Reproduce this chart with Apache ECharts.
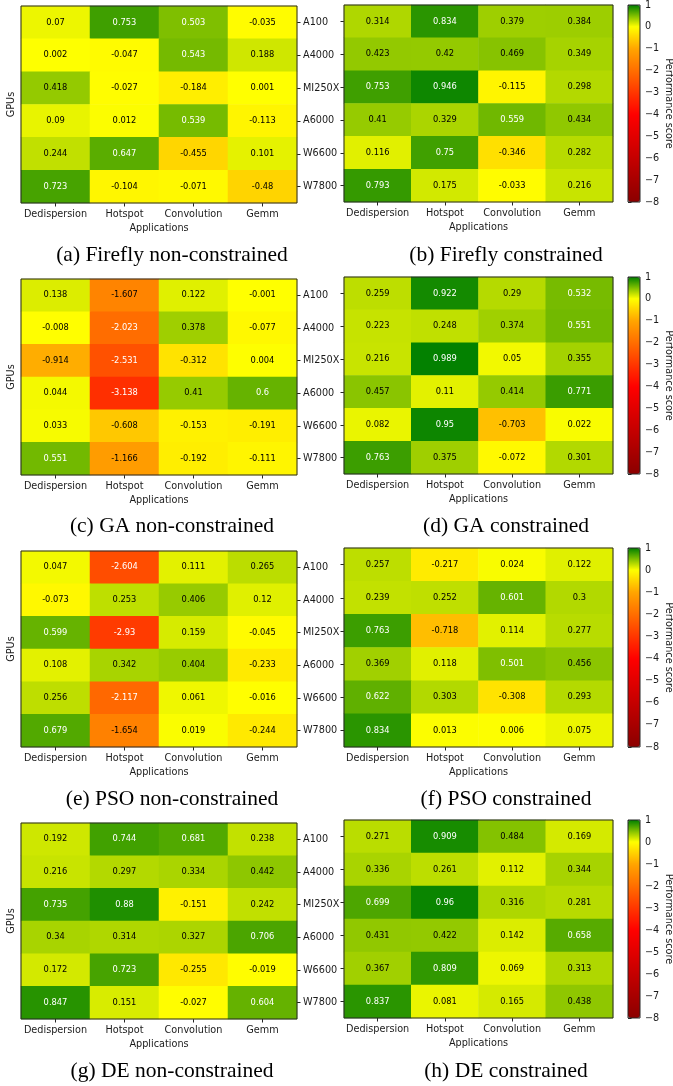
<!DOCTYPE html>
<html><head><meta charset="utf-8">
<script src="https://cdn.jsdelivr.net/npm/echarts@6/dist/echarts.min.js"></script>
<style>
html,body{margin:0;padding:0;background:#fff;}
#wrap{position:relative;width:673px;height:1086px;overflow:hidden;background:#fff;}
.p{position:absolute;}
</style></head><body><div id="wrap"></div>
<script>
// ---------- data ----------
const apps = ['Dedispersion', 'Hotspot', 'Convolution', 'Gemm'];
const gpus = ['A100', 'A4000', 'MI250X', 'A6000', 'W6600', 'W7800'];
const colorbarMin = -8;
const colorbarMax = 1;

const fireflyNon = [
  [0.07, 0.753, 0.503, -0.035],
  [0.002, -0.047, 0.543, 0.188],
  [0.418, -0.027, -0.184, 0.001],
  [0.09, 0.012, 0.539, -0.113],
  [0.244, 0.647, -0.455, 0.101],
  [0.723, -0.104, -0.071, -0.48]
];
const fireflyCon = [
  [0.314, 0.834, 0.379, 0.384],
  [0.423, 0.42, 0.469, 0.349],
  [0.753, 0.946, -0.115, 0.298],
  [0.41, 0.329, 0.559, 0.434],
  [0.116, 0.75, -0.346, 0.282],
  [0.793, 0.175, -0.033, 0.216]
];
const gaNon = [
  [0.138, -1.607, 0.122, -0.001],
  [-0.008, -2.023, 0.378, -0.077],
  [-0.914, -2.531, -0.312, 0.004],
  [0.044, -3.138, 0.41, 0.6],
  [0.033, -0.608, -0.153, -0.191],
  [0.551, -1.166, -0.192, -0.111]
];
const gaCon = [
  [0.259, 0.922, 0.29, 0.532],
  [0.223, 0.248, 0.374, 0.551],
  [0.216, 0.989, 0.05, 0.355],
  [0.457, 0.11, 0.414, 0.771],
  [0.082, 0.95, -0.703, 0.022],
  [0.763, 0.375, -0.072, 0.301]
];
const psoNon = [
  [0.047, -2.604, 0.111, 0.265],
  [-0.073, 0.253, 0.406, 0.12],
  [0.599, -2.93, 0.159, -0.045],
  [0.108, 0.342, 0.404, -0.233],
  [0.256, -2.117, 0.061, -0.016],
  [0.679, -1.654, 0.019, -0.244]
];
const psoCon = [
  [0.257, -0.217, 0.024, 0.122],
  [0.239, 0.252, 0.601, 0.3],
  [0.763, -0.718, 0.114, 0.277],
  [0.369, 0.118, 0.501, 0.456],
  [0.622, 0.303, -0.308, 0.293],
  [0.834, 0.013, 0.006, 0.075]
];
const deNon = [
  [0.192, 0.744, 0.681, 0.238],
  [0.216, 0.297, 0.334, 0.442],
  [0.735, 0.88, -0.151, 0.242],
  [0.34, 0.314, 0.327, 0.706],
  [0.172, 0.723, -0.255, -0.019],
  [0.847, 0.151, -0.027, 0.604]
];
const deCon = [
  [0.271, 0.909, 0.484, 0.169],
  [0.336, 0.261, 0.112, 0.344],
  [0.699, 0.96, 0.316, 0.281],
  [0.431, 0.422, 0.142, 0.658],
  [0.367, 0.809, 0.069, 0.313],
  [0.837, 0.081, 0.165, 0.438]
];
const captions = [
  '(a) Firefly non-constrained', '(b) Firefly constrained',
  '(c) GA non-constrained', '(d) GA constrained',
  '(e) PSO non-constrained', '(f) PSO constrained',
  '(g) DE non-constrained', '(h) DE constrained'
];
const panelData = [fireflyNon, fireflyCon, gaNon, gaCon, psoNon, psoCon, deNon, deCon];

// ---------- styling / layout ----------
// colours at -8,-7,...,0,1 (darkred -> red -> orange -> yellow -> green)
const cmap = ['#8b0000', '#a80000', '#c50000', '#e20000', '#ff0000',
              '#ff3700', '#ff6e00', '#ffa500', '#ffff00', '#008000'];
const FONT = 'DejaVu Sans';
const INK = '#1a1a1a';
const divs = [
  {x: 0, y: 0, w: 346, h: 270}, {x: 331, y: 0, w: 342, h: 270},
  {x: 0, y: 270, w: 346, h: 270}, {x: 331, y: 270, w: 342, h: 270},
  {x: 0, y: 540, w: 346, h: 270}, {x: 331, y: 540, w: 342, h: 270},
  {x: 0, y: 810, w: 346, h: 276}, {x: 331, y: 810, w: 342, h: 276}
];
const layout = [
  {left: 21, top: 6, w: 276, h: 197, capX: 172, capY: 255},
  {left: 13, top: 5, w: 269, h: 197, capX: 175, capY: 255},
  {left: 21, top: 9, w: 276, h: 196, capX: 172, capY: 256},
  {left: 13, top: 7, w: 269, h: 197, capX: 175, capY: 256},
  {left: 21, top: 11, w: 276, h: 196, capX: 172, capY: 259},
  {left: 13, top: 8, w: 269, h: 199, capX: 175, capY: 259},
  {left: 21, top: 13, w: 276, h: 196, capX: 172, capY: 261},
  {left: 13, top: 10, w: 269, h: 198, capX: 175, capY: 261}
];

function buildOption(idx) {
  const data = panelData[idx];
  const L = layout[idx];
  const isRight = idx % 2 === 1;
  const cells = [];
  data.forEach((row, yi) => row.forEach((v, xi) => {
    cells.push({value: [xi, yi, v], label: {color: (v >= 0.5 || v <= -2) ? '#ffffff' : '#000000'}});
  }));
  const txt = {fontFamily: FONT, fontSize: 9.7, color: INK};
  const grids = [{left: L.left, top: L.top, width: L.w, height: L.h, show: true,
                  outerBoundsMode: 'none', containLabel: false,
                  borderColor: '#262626', borderWidth: 1, z: 5, backgroundColor: 'transparent'}];
  const xAxes = [{
    gridIndex: 0, type: 'category', data: apps, position: 'bottom',
    axisLine: {show: false},
    axisTick: {show: true, alignWithLabel: true, length: 3.5, lineStyle: {color: '#262626', width: 1}},
    axisLabel: Object.assign({margin: 6, interval: 0, hideOverlap: false}, txt),
    splitLine: {show: false},
    name: 'Applications', nameLocation: 'middle', nameGap: 20, nameTextStyle: txt
  }];
  const yAxes = [{
    gridIndex: 0, type: 'category', data: gpus, inverse: true,
    position: isRight ? 'left' : 'right',
    axisLine: {show: false},
    axisTick: {show: true, alignWithLabel: true, length: 3.5, lineStyle: {color: '#262626', width: 1}},
    axisLabel: Object.assign({show: !isRight, margin: 6, interval: 0, hideOverlap: false}, txt),
    splitLine: {show: false}
  }];
  if (!isRight) {
    yAxes.push({
      gridIndex: 0, type: 'category', data: gpus, inverse: true, position: 'left',
      axisLine: {show: false}, axisTick: {show: false}, axisLabel: {show: false},
      splitLine: {show: false},
      name: 'GPUs', nameLocation: 'middle', nameGap: 5, nameRotate: 90, nameTextStyle: txt
    });
  }
  const visualMap = {
    type: 'continuous', min: colorbarMin, max: colorbarMax, seriesIndex: 0,
    inRange: {color: cmap}, calculable: false, hoverLink: false,
    show: isRight, orient: 'vertical', padding: 0,
    left: 297, top: L.top, itemWidth: 12, itemHeight: L.h,
    textStyle: {color: 'transparent'}, text: ['', '']
  };
  if (isRight) {
    grids.push({left: 297, top: L.top, width: 12, height: L.h, show: true,
                outerBoundsMode: 'none', containLabel: false,
                borderColor: '#262626', borderWidth: 1, z: 10, backgroundColor: 'transparent'});
    xAxes.push({gridIndex: 1, type: 'value', show: false, min: 0, max: 1});
    yAxes.push({
      gridIndex: 1, type: 'value', min: colorbarMin, max: colorbarMax, interval: 1,
      position: 'right',
      axisLine: {show: false},
      axisTick: {show: true, length: 3.5, lineStyle: {color: '#262626', width: 1}},
      axisLabel: Object.assign({margin: 5, formatter: v => v < 0 ? '\u2212' + (-v) : String(v)}, txt),
      splitLine: {show: false},
      name: 'Performance score', nameLocation: 'middle', nameGap: 22, nameRotate: -90,
      nameTextStyle: txt
    });
  }
  return {
    animation: false,
    backgroundColor: 'transparent',
    grid: grids, xAxis: xAxes, yAxis: yAxes, visualMap: visualMap,
    series: [{
      type: 'heatmap', xAxisIndex: 0, yAxisIndex: 0, data: cells,
      label: {show: true, fontFamily: FONT, fontSize: 8.3, formatter: p => String(p.value[2])},
      itemStyle: {borderWidth: 0},
      emphasis: {disabled: true}
    }],
    graphic: [{
      type: 'text', x: L.capX, y: L.capY,
      style: {text: captions[idx], font: '21.5px "Liberation Serif"', fill: '#000',
              textAlign: 'center', textVerticalAlign: 'middle'}
    }]
  };
}

const wrap = document.getElementById('wrap');
divs.forEach((d, i) => {
  const el = document.createElement('div');
  el.className = 'p';
  el.style.left = d.x + 'px'; el.style.top = d.y + 'px';
  el.style.width = d.w + 'px'; el.style.height = d.h + 'px';
  wrap.appendChild(el);
  const chart = echarts.init(el, null, {renderer: 'canvas'});
  chart.setOption(buildOption(i));
});
</script>
</body></html>
